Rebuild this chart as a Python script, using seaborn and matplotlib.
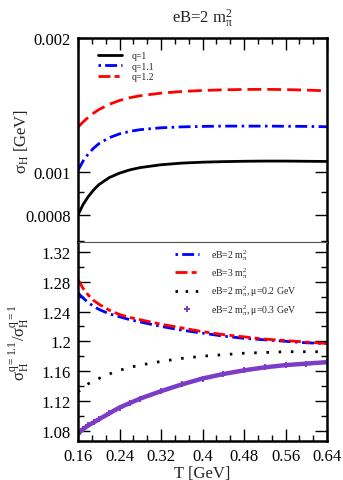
import numpy as np
import pandas as pd
import seaborn as sns
import matplotlib.pyplot as plt
from matplotlib.lines import Line2D
from matplotlib.ticker import FixedLocator, MultipleLocator, FuncFormatter, LogLocator, NullFormatter

# data
T = [0.16, 0.17, 0.18, 0.19, 0.20, 0.22, 0.24, 0.26, 0.28, 0.32, 0.36, 0.40, 0.44, 0.48, 0.52, 0.56, 0.60, 0.64]

sigma_q1 = [0.00080, 0.000845, 0.00088, 0.00091, 0.000935, 0.00097, 0.000993, 0.00101, 0.001022,
            0.001037, 0.001046, 0.001051, 0.001054, 0.001056, 0.001057, 0.001057, 0.001056, 0.001055]
sigma_q11 = [0.001008, 0.001058, 0.001098, 0.00113, 0.001156, 0.001193, 0.001217, 0.001233, 0.001244,
             0.001256, 0.001262, 0.001265, 0.001267, 0.001267, 0.001267, 0.001266, 0.001265, 0.001263]
sigma_q12 = [0.00126, 0.001295, 0.001327, 0.001355, 0.00138, 0.001418, 0.001447, 0.001468, 0.001483,
             0.001503, 0.001516, 0.001524, 0.001529, 0.001532, 0.001533, 0.001531, 0.001527, 0.001521]

ratio_eB2 = [1.265, 1.258, 1.252, 1.247, 1.243, 1.237, 1.233, 1.229, 1.226, 1.220, 1.215, 1.211,
             1.207, 1.204, 1.202, 1.200, 1.198, 1.197]
ratio_eB3 = [1.283, 1.271, 1.262, 1.255, 1.250, 1.242, 1.236, 1.232, 1.229, 1.223, 1.218, 1.213,
             1.209, 1.206, 1.203, 1.201, 1.199, 1.197]
ratio_mu02 = [1.132, 1.138, 1.143, 1.147, 1.150, 1.156, 1.161, 1.165, 1.168, 1.173, 1.177, 1.180,
              1.182, 1.184, 1.185, 1.186, 1.186, 1.186]
ratio_mu03 = [1.076, 1.082, 1.087, 1.091, 1.095, 1.103, 1.111, 1.117, 1.123, 1.133, 1.142, 1.150,
              1.156, 1.161, 1.165, 1.168, 1.170, 1.172]

top_labels = ['q=1', 'q=1.1', 'q=1.2']
bottom_labels = [r'eB=2 m$_{\pi}^{2}$', r'eB=3 m$_{\pi}^{2}$',
                 r'eB=2 m$_{\pi}^{2}$, $\mu$=0.2 GeV', r'eB=2 m$_{\pi}^{2}$, $\mu$=0.3 GeV']
x_ticks = [0.16, 0.24, 0.32, 0.40, 0.48, 0.56, 0.64]
top_yticks = [0.0008, 0.001, 0.002]
bottom_yticks = [1.08, 1.12, 1.16, 1.20, 1.24, 1.28, 1.32]

# style
sns.set_style("ticks")
plt.rcParams['font.family'] = ['Liberation Serif', 'DejaVu Serif']
plt.rcParams['mathtext.fontset'] = 'custom'
plt.rcParams['mathtext.rm'] = 'Liberation Serif'
plt.rcParams['mathtext.it'] = 'Liberation Serif'
plt.rcParams['mathtext.default'] = 'regular'
plt.rcParams['lines.scale_dashes'] = False

purple = '#7d3cc8'
lw = 2.0
ls_solid = '-'
ls_dashdot = (0, (8.6, 3.2, 1.8, 3.2))
ls_dashed = (0, (10, 4.3))
ls_dashdash = (0, (8.6, 3, 3.6, 3))
ls_dotted = (0, (1.8, 7))

fig = plt.figure(figsize=(3.43, 4.81), dpi=100)
ax1 = fig.add_axes([0.2274, 0.4948, 0.7260, 0.4241])
ax2 = fig.add_axes([0.2274, 0.0811, 0.7260, 0.4137])

# top panel
sns.lineplot(ax=ax1, x=T, y=sigma_q1, color='black', linewidth=lw, linestyle=ls_solid)
sns.lineplot(ax=ax1, x=T, y=sigma_q11, color='#0000ff', linewidth=lw, linestyle=ls_dashdot)
sns.lineplot(ax=ax1, x=T, y=sigma_q12, color='#ff0000', linewidth=lw, linestyle=ls_dashed)
ax1.set_yscale('log')
ax1.set_xlim(0.16, 0.64)
ax1.set_ylim(0.000695, 0.002)
ax1.yaxis.set_major_locator(FixedLocator(top_yticks))
ax1.yaxis.set_major_formatter(FuncFormatter(lambda v, p: '%g' % v))
ax1.yaxis.set_minor_locator(LogLocator(base=10, subs=np.arange(2, 10) * 0.1, numticks=20))
ax1.yaxis.set_minor_formatter(NullFormatter())
ax1.xaxis.set_major_locator(FixedLocator(x_ticks))
ax1.xaxis.set_minor_locator(MultipleLocator(0.08 / 3))
ax1.tick_params(axis='x', which='both', bottom=False, top=True, labelbottom=False)
ax1.set_ylabel(r'$\sigma_H$ [GeV]', fontsize=12)
ax1.yaxis.set_label_coords(-0.19, 0.5)
ax1.set_title(r'eB=2 m$_{\pi}^{2}$', fontsize=12, pad=12)

h_top = [Line2D([], [], color='black', lw=lw, ls=ls_solid),
         Line2D([], [], color='#0000ff', lw=lw, ls=(0, (1.8, 3, 8.6, 3))),
         Line2D([], [], color='#ff0000', lw=lw, ls=(0, (8.6, 3, 3.6, 3)))]
ax1.legend(h_top, top_labels, loc='upper left', bbox_to_anchor=(0.08, 0.935), frameon=False,
           fontsize=7, handlelength=2.5, handletextpad=1.0, labelspacing=0.15,
           borderpad=0, borderaxespad=0)

# bottom panel
sns.lineplot(ax=ax2, x=T, y=ratio_eB2, color='#0000ff', linewidth=lw, linestyle=ls_dashdot)
sns.lineplot(ax=ax2, x=T, y=ratio_eB3, color='#ff0000', linewidth=lw, linestyle=ls_dashdash)
sns.lineplot(ax=ax2, x=T, y=ratio_mu02, color='black', linewidth=lw, linestyle=ls_dotted)
sns.lineplot(ax=ax2, x=T, y=ratio_mu03, color=purple, linewidth=3.2, marker='+',
             markersize=5, markeredgewidth=1.4, markeredgecolor=purple)
ax2.set_xlim(0.16, 0.64)
ax2.set_ylim(1.066, 1.3335)
ax2.xaxis.set_major_locator(FixedLocator(x_ticks))
ax2.xaxis.set_minor_locator(MultipleLocator(0.08 / 3))
ax2.xaxis.set_major_formatter(FuncFormatter(lambda v, p: '%g' % round(v, 2)))
ax2.yaxis.set_major_locator(FixedLocator(bottom_yticks))
ax2.yaxis.set_minor_locator(MultipleLocator(0.02))
ax2.yaxis.set_major_formatter(FuncFormatter(lambda v, p: '%g' % round(v, 2)))
ax2.tick_params(axis='x', which='both', bottom=True, top=False)
ax2.set_xlabel('T [GeV]', fontsize=12, labelpad=1)
ax2.set_ylabel(r'$\sigma_H^{q=1.1}/\sigma_H^{q=1}$', fontsize=12)
ax2.yaxis.set_label_coords(-0.19, 0.5)

h_bot = [Line2D([], [], color='#0000ff', lw=lw, ls=(0, (1.8, 3, 8.6, 3))),
         Line2D([], [], color='#ff0000', lw=lw, ls=(0, (8.6, 3, 3.6, 3))),
         Line2D([], [], color='black', lw=lw, ls=(0, (1.8, 5.5))),
         Line2D([], [], color=purple, ls='none', marker='+', markersize=5, markeredgewidth=1.4)]
ax2.legend(h_bot, bottom_labels, loc='upper left', bbox_to_anchor=(0.39, 0.975), frameon=False,
           fontsize=7, handlelength=2.5, handletextpad=1.2, labelspacing=0.35,
           borderpad=0, borderaxespad=0)

for ax in (ax1, ax2):
    ax.tick_params(axis='y', which='both', left=True, right=True)
    ax.tick_params(which='both', direction='in', labelsize=12, width=1, colors='black', pad=5)
    ax.tick_params(which='major', length=8.5)
    ax.tick_params(which='minor', length=4.3)
    for s in ax.spines.values():
        s.set_linewidth(1.8)
        s.set_color('black')

ax1.spines['bottom'].set_linewidth(0.8)
ax1.spines['bottom'].set_color('#555555')
ax2.spines['top'].set_linewidth(0.8)
ax2.spines['top'].set_color('#555555')

fig.savefig('out.png', dpi=100)
